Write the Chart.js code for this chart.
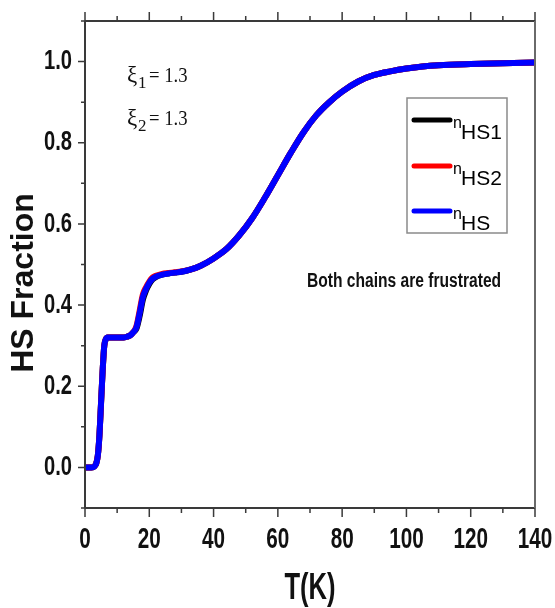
<!DOCTYPE html>
<html>
<head>
<meta charset="utf-8">
<script src="https://cdn.jsdelivr.net/npm/chart.js@4.4.0/dist/chart.umd.min.js"></script>
<style>
  html, body { margin: 0; padding: 0; background: #fff; }
  #wrap { width: 555px; height: 608px; }
</style>
</head>
<body>
<div id="wrap"><canvas id="hsChart" width="555" height="608"></canvas></div>
<script>
// T (K) and HS fractions
const temps = [0,1,2,3,3.5,4,4.5,5,5.5,6, 6.5,7,8,10,12,13,14,15,16,17, 18,19,20,21,22,24,26,28,30,33, 36,40,44,48,52,56,60,64,68,72, 76,80,85,90,95,100,105,110,120,130, 140]
const nHS1 = [0,0,0,0.003,0.01,0.03,0.08,0.16,0.24,0.30, 0.316,0.32,0.32,0.32,0.32,0.322,0.325,0.333,0.342,0.373, 0.413,0.436,0.452,0.463,0.469,0.475,0.478,0.48,0.482,0.488, 0.497,0.515,0.538,0.572,0.614,0.665,0.72,0.775,0.826,0.868, 0.9,0.926,0.951,0.967,0.976,0.983,0.988,0.991,0.994,0.996, 0.998]
const nHS2 = [0,0,0,0.003,0.01,0.03,0.08,0.16,0.24,0.30, 0.316,0.32,0.32,0.32,0.32,0.322,0.325,0.333,0.348,0.386, 0.426,0.444,0.458,0.468,0.472,0.477,0.479,0.481,0.483,0.488, 0.497,0.515,0.538,0.572,0.614,0.665,0.72,0.775,0.826,0.868, 0.9,0.926,0.951,0.967,0.976,0.983,0.988,0.991,0.994,0.996, 0.998]
const nHS = [0,0,0,0.003,0.01,0.03,0.08,0.16,0.24,0.30, 0.316,0.32,0.32,0.32,0.32,0.322,0.325,0.333,0.345,0.38, 0.42,0.44,0.455,0.465,0.47,0.475,0.478,0.48,0.482,0.488, 0.497,0.515,0.538,0.572,0.614,0.665,0.72,0.775,0.826,0.868, 0.9,0.926,0.951,0.967,0.976,0.983,0.988,0.991,0.994,0.996, 0.998]

const xTicks = [0,20,40,60,80,100,120,140]
const yTicks = [0.0,0.2,0.4,0.6,0.8,1.0]
const seriesNames = ['HS1','HS2','HS']   // shown as n with subscript
const seriesColors = ['#000000','#ff0000','#0000ff']

const sans = "'Liberation Sans', Arial, sans-serif"
const serif = "'Liberation Serif', 'Times New Roman', serif"

function pts(ys) {
  return temps.map((t, i) => ({x: t, y: ys[i]}))
}

// the original uses a tall narrow face, so squeeze the text sideways
function squeezed(ctx, text, x, y, sx, font, align, base) {
  ctx.save()
  ctx.translate(x, y)
  ctx.scale(sx, 1)
  ctx.font = font
  ctx.textAlign = align
  ctx.textBaseline = base
  ctx.fillText(text, 0, 0)
  ctx.restore()
}

// frame, tick marks, labels, legend and notes
const decor = {
  id: 'decor',
  afterDraw(chart) {
    const ctx = chart.ctx
    const a = chart.chartArea
    const xs = chart.scales.x, ys = chart.scales.y
    ctx.save()
    ctx.strokeStyle = '#3a3a3a'
    ctx.lineWidth = 2
    ctx.beginPath()
    ctx.moveTo(a.left, a.top); ctx.lineTo(a.right, a.top)
    ctx.moveTo(a.left, a.top); ctx.lineTo(a.left, a.bottom)
    ctx.moveTo(a.left, a.bottom); ctx.lineTo(a.right, a.bottom)
    ctx.stroke()
    ctx.strokeStyle = '#6a6a6a'
    ctx.beginPath()
    ctx.moveTo(a.right, a.top); ctx.lineTo(a.right, a.bottom)
    ctx.stroke()

    // x ticks, top and bottom, outward
    ctx.strokeStyle = '#3a3a3a'
    ctx.lineWidth = 1.5
    ctx.beginPath()
    for (let v = 0; v <= 140; v += 10) {
      const px = xs.getPixelForValue(v)
      const len = xTicks.includes(v) ? 9 : 5
      ctx.moveTo(px, a.top); ctx.lineTo(px, a.top - len)
      ctx.moveTo(px, a.bottom); ctx.lineTo(px, a.bottom + len)
    }
    // y ticks, left, outward
    for (let k = -1; k <= 11; k++) {
      const py = ys.getPixelForValue(k / 10)
      const len = (k % 2 === 0) ? 7 : 4
      ctx.moveTo(a.left, py); ctx.lineTo(a.left - len, py)
    }
    ctx.stroke()

    // tick labels
    ctx.fillStyle = '#111'
    xTicks.forEach(v => {
      squeezed(ctx, String(v), xs.getPixelForValue(v), 540, 0.69, 'bold 30px ' + sans, 'center', 'middle')
    })
    yTicks.forEach(v => {
      squeezed(ctx, v.toFixed(1), a.left - 13, ys.getPixelForValue(v), 0.72, 'bold 28px ' + sans, 'right', 'middle')
    })

    // axis titles
    squeezed(ctx, 'T(K)', (a.left + a.right) / 2, 599, 0.69, 'bold 37px ' + sans, 'center', 'alphabetic')
    ctx.save()
    ctx.translate(24, 283)
    ctx.rotate(-Math.PI / 2)
    ctx.font = 'bold 32px ' + sans
    ctx.textAlign = 'center'
    ctx.textBaseline = 'middle'
    ctx.fillText('HS Fraction', 0, 0)
    ctx.restore()

    // legend box
    const lx = 407, ly = 98, lw = 100, lh = 135
    ctx.strokeStyle = '#8a8a8a'
    ctx.lineWidth = 1.5
    ctx.strokeRect(lx, ly, lw, lh)
    const rows = [120, 166, 211]
    seriesNames.forEach((name, i) => {
      ctx.strokeStyle = seriesColors[i]
      ctx.lineWidth = 5
      ctx.lineCap = 'round'
      ctx.beginPath()
      ctx.moveTo(414, rows[i]); ctx.lineTo(450, rows[i])
      ctx.stroke()
      ctx.fillStyle = '#000'
      ctx.textBaseline = 'alphabetic'
      ctx.textAlign = 'left'
      ctx.font = '16px ' + sans
      ctx.fillText('n', 453, rows[i] + 8)
      ctx.font = '21px ' + sans
      ctx.fillText(name, 461, rows[i] + 19)
    })

    // notes
    ctx.fillStyle = '#111'
    squeezed(ctx, 'Both chains are frustrated', 404, 287, 0.78, 'bold 20px ' + sans, 'center', 'alphabetic')

    const xi = [['1', 82], ['2', 125]]
    xi.forEach(([sub, base]) => {
      ctx.textAlign = 'left'
      ctx.textBaseline = 'alphabetic'
      ctx.font = '23px ' + serif
      ctx.fillText('\u03be', 127, base)
      ctx.font = '17px ' + serif
      ctx.fillText(sub, 138, base + 6)
      squeezed(ctx, '= 1.3', 149, base, 0.85, '22px ' + serif, 'left', 'alphabetic')
    })
    ctx.restore()
  }
}

const ctx = document.getElementById('hsChart').getContext('2d')
const hsChart = new Chart(ctx, {
  type: 'line',
  data: {
    datasets: [
      { label: 'nHS1', data: pts(nHS1), borderColor: seriesColors[0], order: 3 },
      { label: 'nHS2', data: pts(nHS2), borderColor: seriesColors[1], order: 2 },
      { label: 'nHS', data: pts(nHS), borderColor: seriesColors[2], order: 1 }
    ]
  },
  options: {
    responsive: false,
    animation: false,
    layout: { padding: { top: 21, right: 20, left: 0, bottom: 0 } },
    elements: {
      line: { borderWidth: 6, cubicInterpolationMode: 'monotone', fill: false },
      point: { radius: 0 }
    },
    plugins: { legend: { display: false }, tooltip: { enabled: false } },
    scales: {
      x: {
        type: 'linear',
        min: 0, max: 140,
        afterFit: s => { s.height = 100; s.paddingLeft = 0; s.paddingRight = 0 },
        afterBuildTicks: s => { s.ticks = xTicks.map(v => ({value: v})) },
        grid: { display: false },
        border: { display: false },
        ticks: { display: false }
      },
      y: {
        type: 'linear',
        min: -0.1, max: 1.1,
        afterFit: s => { s.width = 85; s.paddingTop = 0; s.paddingBottom = 0 },
        afterBuildTicks: s => { s.ticks = yTicks.map(v => ({value: v})) },
        grid: { display: false },
        border: { display: false },
        ticks: { display: false }
      }
    }
  },
  plugins: [decor]
})
</script>
</body>
</html>
